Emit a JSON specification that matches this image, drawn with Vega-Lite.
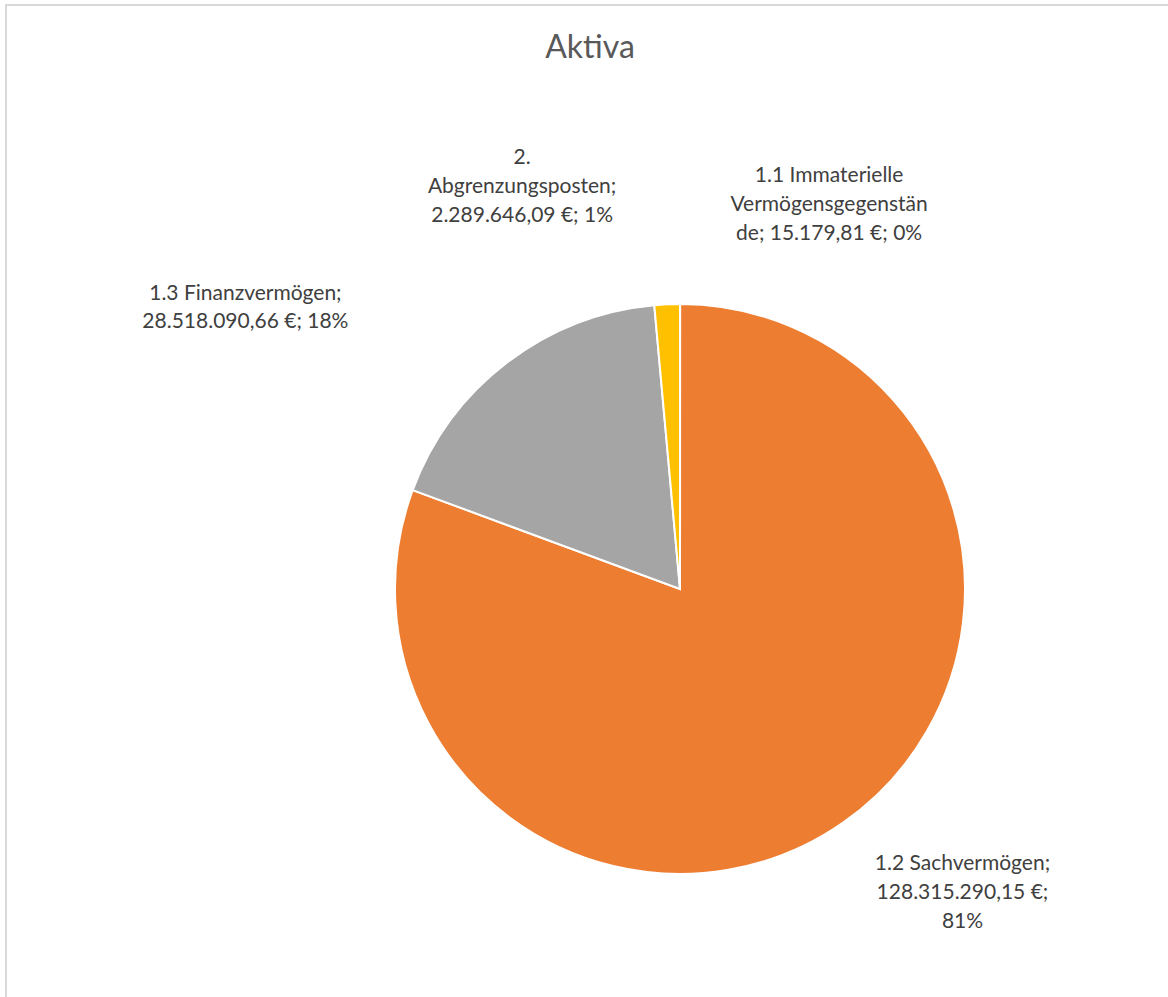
{
  "$schema": "https://vega.github.io/schema/vega-lite/v6.json",
  "width": 1348,
  "height": 1168,
  "autosize": "none",
  "padding": {"left": 6, "top": 5, "right": 0, "bottom": 0},
  "background": "white",
  "view": {"stroke": "#d9d9d9", "strokeWidth": 2, "fill": "white"},
  "title": {"text": "Aktiva", "font": "Lato", "fontSize": 32, "fontWeight": "normal", "color": "#595959", "anchor": "middle", "dx": -90, "dy": 85, "offset": 0, "baseline": "alphabetic"},
  "data": {"values": [
    {"cat": "1.1 Immaterielle Vermögensgegenstände", "order": 1, "value": 15179.81, "label": "1.1 Immaterielle\nVermögensgegenstän\nde; 15.179,81 €; 0%"},
    {"cat": "1.2 Sachvermögen", "order": 2, "value": 128315290.15, "label": "1.2 Sachvermögen;\n128.315.290,15 €;\n81%"},
    {"cat": "1.3 Finanzvermögen", "order": 3, "value": 28518090.66, "label": "1.3 Finanzvermögen;\n28.518.090,66 €; 18%"},
    {"cat": "2. Abgrenzungsposten", "order": 4, "value": 2289646.09, "label": "2.\nAbgrenzungsposten;\n2.289.646,09 €; 1%"}
  ]},
  "encoding": {
    "theta": {"field": "value", "type": "quantitative", "stack": true},
    "order": {"field": "order", "type": "quantitative"}
  },
  "layer": [
    {
      "mark": {"type": "arc", "outerRadius": 285, "stroke": "white", "strokeWidth": 2},
      "encoding": {
        "color": {"field": "cat", "type": "nominal", "legend": null,
          "scale": {"domain": ["1.1 Immaterielle Vermögensgegenstände", "1.2 Sachvermögen", "1.3 Finanzvermögen", "2. Abgrenzungsposten"],
                    "range": ["#4472C4", "#ED7D31", "#A5A5A5", "#FFC000"]}}
      }
    },
    {
      "mark": {"type": "text", "radius": 330, "dx": 149, "dy": -83, "font": "Lato", "fontSize": 21, "color": "#404040", "align": "center", "baseline": "middle", "lineBreak": "\n", "lineHeight": 29},
      "encoding": {"detail": {"field": "cat"}, "text": {"condition": {"test": "datum.order === 1", "field": "label", "type": "nominal"}, "value": ""}}
    },
    {
      "mark": {"type": "text", "radius": 330, "dx": 94, "dy": 4, "font": "Lato", "fontSize": 21, "color": "#404040", "align": "center", "baseline": "middle", "lineBreak": "\n", "lineHeight": 29},
      "encoding": {"detail": {"field": "cat"}, "text": {"condition": {"test": "datum.order === 2", "field": "label", "type": "nominal"}, "value": ""}}
    },
    {
      "mark": {"type": "text", "radius": 330, "dx": -234, "dy": -33, "font": "Lato", "fontSize": 21, "color": "#404040", "align": "center", "baseline": "middle", "lineBreak": "\n", "lineHeight": 28},
      "encoding": {"detail": {"field": "cat"}, "text": {"condition": {"test": "datum.order === 3", "field": "label", "type": "nominal"}, "value": ""}}
    },
    {
      "mark": {"type": "text", "radius": 330, "dx": -143, "dy": -101, "font": "Lato", "fontSize": 21, "color": "#404040", "align": "center", "baseline": "middle", "lineBreak": "\n", "lineHeight": 29},
      "encoding": {"detail": {"field": "cat"}, "text": {"condition": {"test": "datum.order === 4", "field": "label", "type": "nominal"}, "value": ""}}
    }
  ]
}
